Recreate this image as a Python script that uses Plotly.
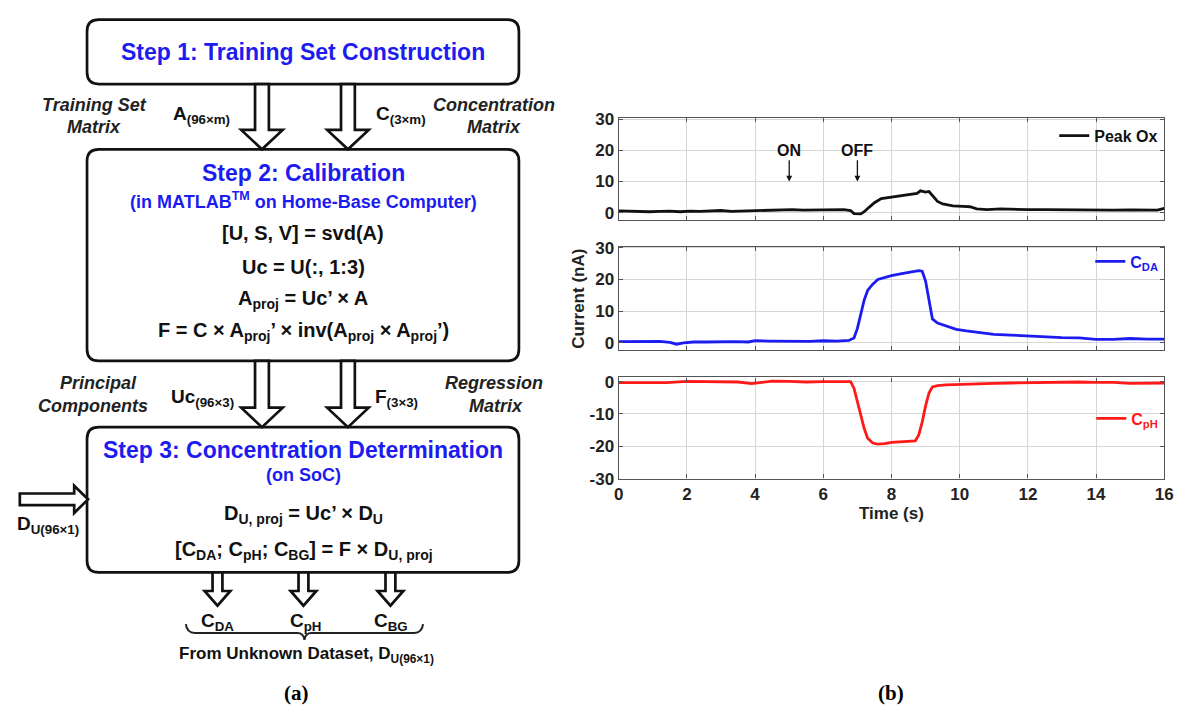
import plotly.graph_objects as go

# ---------------- data ----------------
t_ox = [0, 0.3, 0.6, 0.9, 1.2, 1.5, 1.8, 2.1, 2.4, 2.7, 3.0, 3.3, 3.6, 3.9, 4.2, 4.5, 4.8,
        5.1, 5.4, 5.7, 6.0, 6.3, 6.6, 6.8, 6.9, 7.1, 7.2, 7.35, 7.5, 7.7, 8.0, 8.3, 8.6,
        8.75, 8.85, 9.0, 9.1, 9.2, 9.35, 9.5, 9.8, 10.1, 10.3, 10.5, 10.8, 11.2, 11.6,
        12.0, 12.5, 13.0, 13.5, 14.0, 14.5, 15.0, 15.5, 15.8, 16.0]
v_ox = [0.6, 0.5, 0.2, 0.3, 0.4, 0.5, 0.3, 0.5, 0.4, 0.5, 0.7, 0.4, 0.5, 0.6, 0.5, 0.6, 0.8,
        1.0, 0.8, 0.9, 0.8, 0.9, 1.0, 0.7, -0.3, -0.4, 0.3, 1.8, 3.2, 4.5, 5.0, 5.6, 6.0,
        6.2, 7.0, 6.6, 6.8, 5.5, 3.6, 2.8, 2.2, 2.0, 1.9, 1.2, 1.0, 1.2, 1.0,
        1.0, 1.0, 0.9, 0.9, 0.9, 0.8, 0.9, 0.8, 0.8, 1.4]

t_da = [0, 0.4, 0.8, 1.2, 1.5, 1.7, 1.9, 2.2, 2.6, 3.0, 3.4, 3.8, 4.0, 4.4, 4.8, 5.2, 5.6,
        6.0, 6.4, 6.75, 6.9, 7.0, 7.1, 7.2, 7.3, 7.45, 7.6, 7.8, 8.0, 8.3, 8.6, 8.8, 8.9,
        9.0, 9.1, 9.2, 9.35, 9.6, 9.9, 10.2, 10.6, 11.0, 11.5, 12.0, 12.5, 13.0, 13.5,
        14.0, 14.5, 15.0, 15.5, 16.0]
v_da = [0.3, 0.3, 0.2, 0.4, 0.1, -0.5, -0.1, 0.2, 0.2, 0.3, 0.3, 0.2, 0.6, 0.5, 0.4, 0.5, 0.4,
        0.6, 0.5, 0.7, 1.5, 4.5, 9.0, 13.5, 16.5, 18.5, 20.0, 20.7, 21.2, 21.8, 22.4, 22.8, 22.6,
        19.5, 13.5, 7.5, 6.2, 5.3, 4.2, 3.7, 3.2, 2.6, 2.4, 2.1, 1.9, 1.6, 1.5,
        1.0, 1.0, 1.3, 1.1, 1.1]

t_ph = [0, 0.5, 1.0, 1.4, 2.0, 2.5, 3.0, 3.5, 3.9, 4.1, 4.5, 5.0, 5.5, 6.0, 6.5, 6.8, 6.9,
        7.0, 7.1, 7.2, 7.3, 7.45, 7.6, 7.8, 8.0, 8.3, 8.6, 8.7, 8.8, 8.9, 9.0, 9.1, 9.2,
        9.35, 9.6, 10.0, 10.5, 11.0, 11.5, 12.0, 12.5, 13.0, 13.5, 14.0, 14.5, 15.0, 15.5, 16.0]
v_ph = [-0.3, -0.3, -0.3, -0.3, 0.1, 0.0, -0.2, -0.1, -0.6, -0.4, 0.2, 0.1, -0.1, 0.0, 0.0, 0.0, -2.0,
        -6.0, -10.5, -14.5, -17.5, -19.0, -19.3, -19.2, -18.8, -18.6, -18.5, -18.3, -16.5, -12.5, -7.5, -3.5, -1.6,
        -1.2, -1.0, -0.8, -0.7, -0.5, -0.4, -0.3, -0.3, -0.2, -0.1, -0.2, -0.2, -0.5, -0.4, -0.4]

x_ticks = [0, 2, 4, 6, 8, 10, 12, 14, 16]
x_ticktext = ["0", "2", "4", "6", "8", "10", "12", "14", "16"]
y_ticks_pos = [0, 10, 20, 30]
y_ticktext_pos = ["0", "10", "20", "30"]
y_ticks_neg = [0, -10, -20, -30]
y_ticktext_neg = ["0", "-10", "-20", "-30"]

series_names = ["<b>Peak Ox</b>", "<b>C<sub>DA</sub></b>", "<b>C<sub>pH</sub></b>"]
on_off = [("ON", 5.0), ("OFF", 7.0)]

# ---------------- styling ----------------
W, H = 1195, 717
BLUE = "#1c1cf0"
RED = "#ff1a1a"
INK = "#111111"
SANS = "Liberation Sans, Arial, sans-serif"
SERIF = "Liberation Serif, Times New Roman, serif"
EQ = 20


def px(x):
    return x / W


def py(y):
    return 1 - y / H


def fmt(x, y):
    return f"{px(x):.5f},{py(y):.5f}"


def rrect(x0, y0, x1, y1, r=12):
    return (f"M {fmt(x0 + r, y0)} L {fmt(x1 - r, y0)} Q {fmt(x1, y0)} {fmt(x1, y0 + r)} "
            f"L {fmt(x1, y1 - r)} Q {fmt(x1, y1)} {fmt(x1 - r, y1)} "
            f"L {fmt(x0 + r, y1)} Q {fmt(x0, y1)} {fmt(x0, y1 - r)} "
            f"L {fmt(x0, y0 + r)} Q {fmt(x0, y0)} {fmt(x0 + r, y0)} Z")


def down_arrow(cx, y0, y1, y2, sw, hw):
    pts = [(cx - sw, y0), (cx - sw, y1), (cx - hw, y1), (cx, y2),
           (cx + hw, y1), (cx + sw, y1), (cx + sw, y0)]
    return "M " + " L ".join(fmt(*p) for p in pts) + " Z"


def right_arrow(cy, x0, x1, x2, sw, hw):
    pts = [(x0, cy - sw), (x1, cy - sw), (x1, cy - hw), (x2, cy),
           (x1, cy + hw), (x1, cy + sw), (x0, cy + sw)]
    return "M " + " L ".join(fmt(*p) for p in pts) + " Z"


shapes = []


def add_path(p, width=2.7, fill="white"):
    shapes.append(dict(type="path", path=p, xref="paper", yref="paper",
                       line=dict(color=INK, width=width), fillcolor=fill, layer="above"))


# boxes
add_path(rrect(83, 12, 520, 78))
add_path(rrect(83, 145, 520, 362))
add_path(rrect(83, 430, 520, 579))
# big hollow arrows
for cx in (260, 347):
    add_path(down_arrow(cx, 78, 125, 145, 7, 21))
    add_path(down_arrow(cx, 362, 410, 430, 7, 21))
# input arrow
add_path(right_arrow(504, 15, 70, 84, 6, 14))
# output arrows
for cx in (215, 302, 390):
    add_path(down_arrow(cx, 579, 598, 613, 5, 13))
# brace
brace = (f"M {fmt(183, 632)} Q {fmt(184, 641)} {fmt(192, 641)} L {fmt(296, 641)} "
         f"Q {fmt(302, 641)} {fmt(303, 648)} Q {fmt(304, 641)} {fmt(310, 641)} "
         f"L {fmt(414, 641)} Q {fmt(422, 641)} {fmt(423, 632)}")
shapes.append(dict(type="path", path=brace, xref="paper", yref="paper",
                   line=dict(color="#222", width=2), fillcolor="rgba(0,0,0,0)"))

annotations = []


def txt(x, y, text, size=19, color=INK, family=SANS, angle=0):
    annotations.append(dict(x=px(x), y=py(y), xref="paper", yref="paper", text=text,
                            showarrow=False, xanchor="center", yanchor="middle",
                            textangle=angle,
                            font=dict(size=size, color=color, family=family)))


# box 1
txt(302, 45, "<b>Step 1: Training Set Construction</b>", 23, BLUE)
txt(91, 100, "<b><i>Training Set</i></b>", 18, "#222")
txt(90, 122, "<b><i>Matrix</i></b>", 18, "#222")
txt(199, 110, "<b>A<sub>(96×m)</sub></b>", 19)
txt(401, 110, "<b>C<sub>(3×m)</sub></b>", 19)
txt(495, 100, "<b><i>Concentration</i></b>", 18, "#222")
txt(495, 122, "<b><i>Matrix</i></b>", 18, "#222")
# box 2
txt(302, 169, "<b>Step 2: Calibration</b>", 23, BLUE)
txt(302, 197, "<b>(in MATLAB<sup>TM</sup> on Home-Base Computer)</b>", 18, BLUE)
txt(302, 231, "<b>[U, S, V] = svd(A)</b>", EQ)
txt(302, 266, "<b>Uc = U(:, 1:3)</b>", EQ)
txt(302, 299, "<b>A<sub>proj</sub> = Uc’ × A</b>", EQ)
txt(302, 332, "<b>F = C × A<sub>proj</sub>’ × inv(A<sub>proj</sub> × A<sub>proj</sub>’)</b>", EQ)
txt(95, 385, "<b><i>Principal</i></b>", 18, "#222")
txt(89, 408, "<b><i>Components</i></b>", 18, "#222")
txt(200, 400, "<b>Uc<sub>(96×3)</sub></b>", 19)
txt(396, 400, "<b>F<sub>(3×3)</sub></b>", 19)
txt(495, 385, "<b><i>Regression</i></b>", 18, "#222")
txt(497, 408, "<b><i>Matrix</i></b>", 18, "#222")
# box 3
txt(302, 453, "<b>Step 3: Concentration Determination</b>", 23, BLUE)
txt(302, 479, "<b>(on SoC)</b>", 18, BLUE)
txt(302, 520, "<b>D<sub>U, proj</sub> = Uc’ × D<sub>U</sub></b>", EQ)
txt(303, 556, "<b>[C<sub>DA</sub>; C<sub>pH</sub>; C<sub>BG</sub>] = F × D<sub>U, proj</sub></b>", EQ)
txt(44, 530, "<b>D<sub>U(96×1)</sub></b>", 19)
txt(215, 630, "<b>C<sub>DA</sub></b>", 19)
txt(304, 630, "<b>C<sub>pH</sub></b>", 19)
txt(391, 630, "<b>C<sub>BG</sub></b>", 19)
txt(305, 664, "<b>From Unknown Dataset, D<sub>U(96×1)</sub></b>", 17)
txt(295, 703, "<b>(a)</b>", 21, "#000", SERIF)
txt(897, 703, "<b>(b)</b>", 21, "#000", SERIF)
# chart labels
txt(580, 298, "<b>Current (nA)</b>", 17, "#222", SANS, -90)
txt(897, 519, "<b>Time (s)</b>", 17, "#222")

# ON / OFF markers
for label, tx in on_off:
    annotations.append(dict(x=tx, y=10, xref="x", yref="y", ax=tx, ay=20, axref="x", ayref="y",
                            text=f"<b>{label}</b>", showarrow=True, arrowhead=2, arrowsize=0.9,
                            arrowwidth=1.3, arrowcolor=INK, standoff=0,
                            font=dict(size=16, color=INK, family=SANS)))

# ---------------- figure ----------------
fig = go.Figure()
fig.add_trace(go.Scatter(x=t_ox, y=v_ox, mode="lines", name=series_names[0],
                         line=dict(color=INK, width=2.8), xaxis="x", yaxis="y", legend="legend"))
fig.add_trace(go.Scatter(x=t_da, y=v_da, mode="lines", name=series_names[1],
                         line=dict(color=BLUE, width=2.8), xaxis="x2", yaxis="y2", legend="legend2"))
fig.add_trace(go.Scatter(x=t_ph, y=v_ph, mode="lines", name=series_names[2],
                         line=dict(color=RED, width=2.8), xaxis="x3", yaxis="y3", legend="legend3"))

axis_common = dict(showline=True, linecolor="#555", linewidth=1.3, mirror="ticks",
                   ticks="inside", ticklen=4, tickcolor="#555", showgrid=True,
                   gridcolor="#d6d6d6", gridwidth=1, zeroline=False,
                   tickfont=dict(family=SANS, size=17, color="#222", weight="bold"))
xdom = [621 / W, 1173 / W]


def xax(anchor, labels):
    d = dict(axis_common)
    d.update(domain=xdom, range=[0, 16], tickvals=x_ticks, ticktext=x_ticktext,
             showticklabels=labels, anchor=anchor)
    return d


def yax(anchor, dom, rng, tv, tt):
    d = dict(axis_common)
    d.update(domain=dom, range=rng, tickvals=tv, ticktext=tt, anchor=anchor)
    return d


def leg(y, color):
    return dict(x=px(1172), xanchor="right", y=py(y), yanchor="middle",
                bgcolor="rgba(0,0,0,0)", borderwidth=0, itemwidth=30,
                font=dict(size=16, color=color, family=SANS))


fig.update_layout(
    width=W, height=H, margin=dict(l=0, r=0, t=0, b=0),
    paper_bgcolor="white", plot_bgcolor="white", showlegend=True,
    xaxis=xax("y", False), xaxis2=xax("y2", False), xaxis3=xax("y3", True),
    yaxis=yax("x", [py(217.3), py(112.7)], [-2.3, 30.4], y_ticks_pos, y_ticktext_pos),
    yaxis2=yax("x2", [py(350.7), py(244.7)], [-2.3, 30.4], y_ticks_pos, y_ticktext_pos),
    yaxis3=yax("x3", [py(482.7), py(379.0)], [-30, 1.3], y_ticks_neg, y_ticktext_neg),
    legend=leg(131, INK), legend2=leg(260, BLUE), legend3=leg(421, RED),
    shapes=shapes, annotations=annotations,
)

fig.write_html("out.html", config={"displayModeBar": False},
               post_script="document.body.style.margin='0';document.body.style.overflow='hidden';")
